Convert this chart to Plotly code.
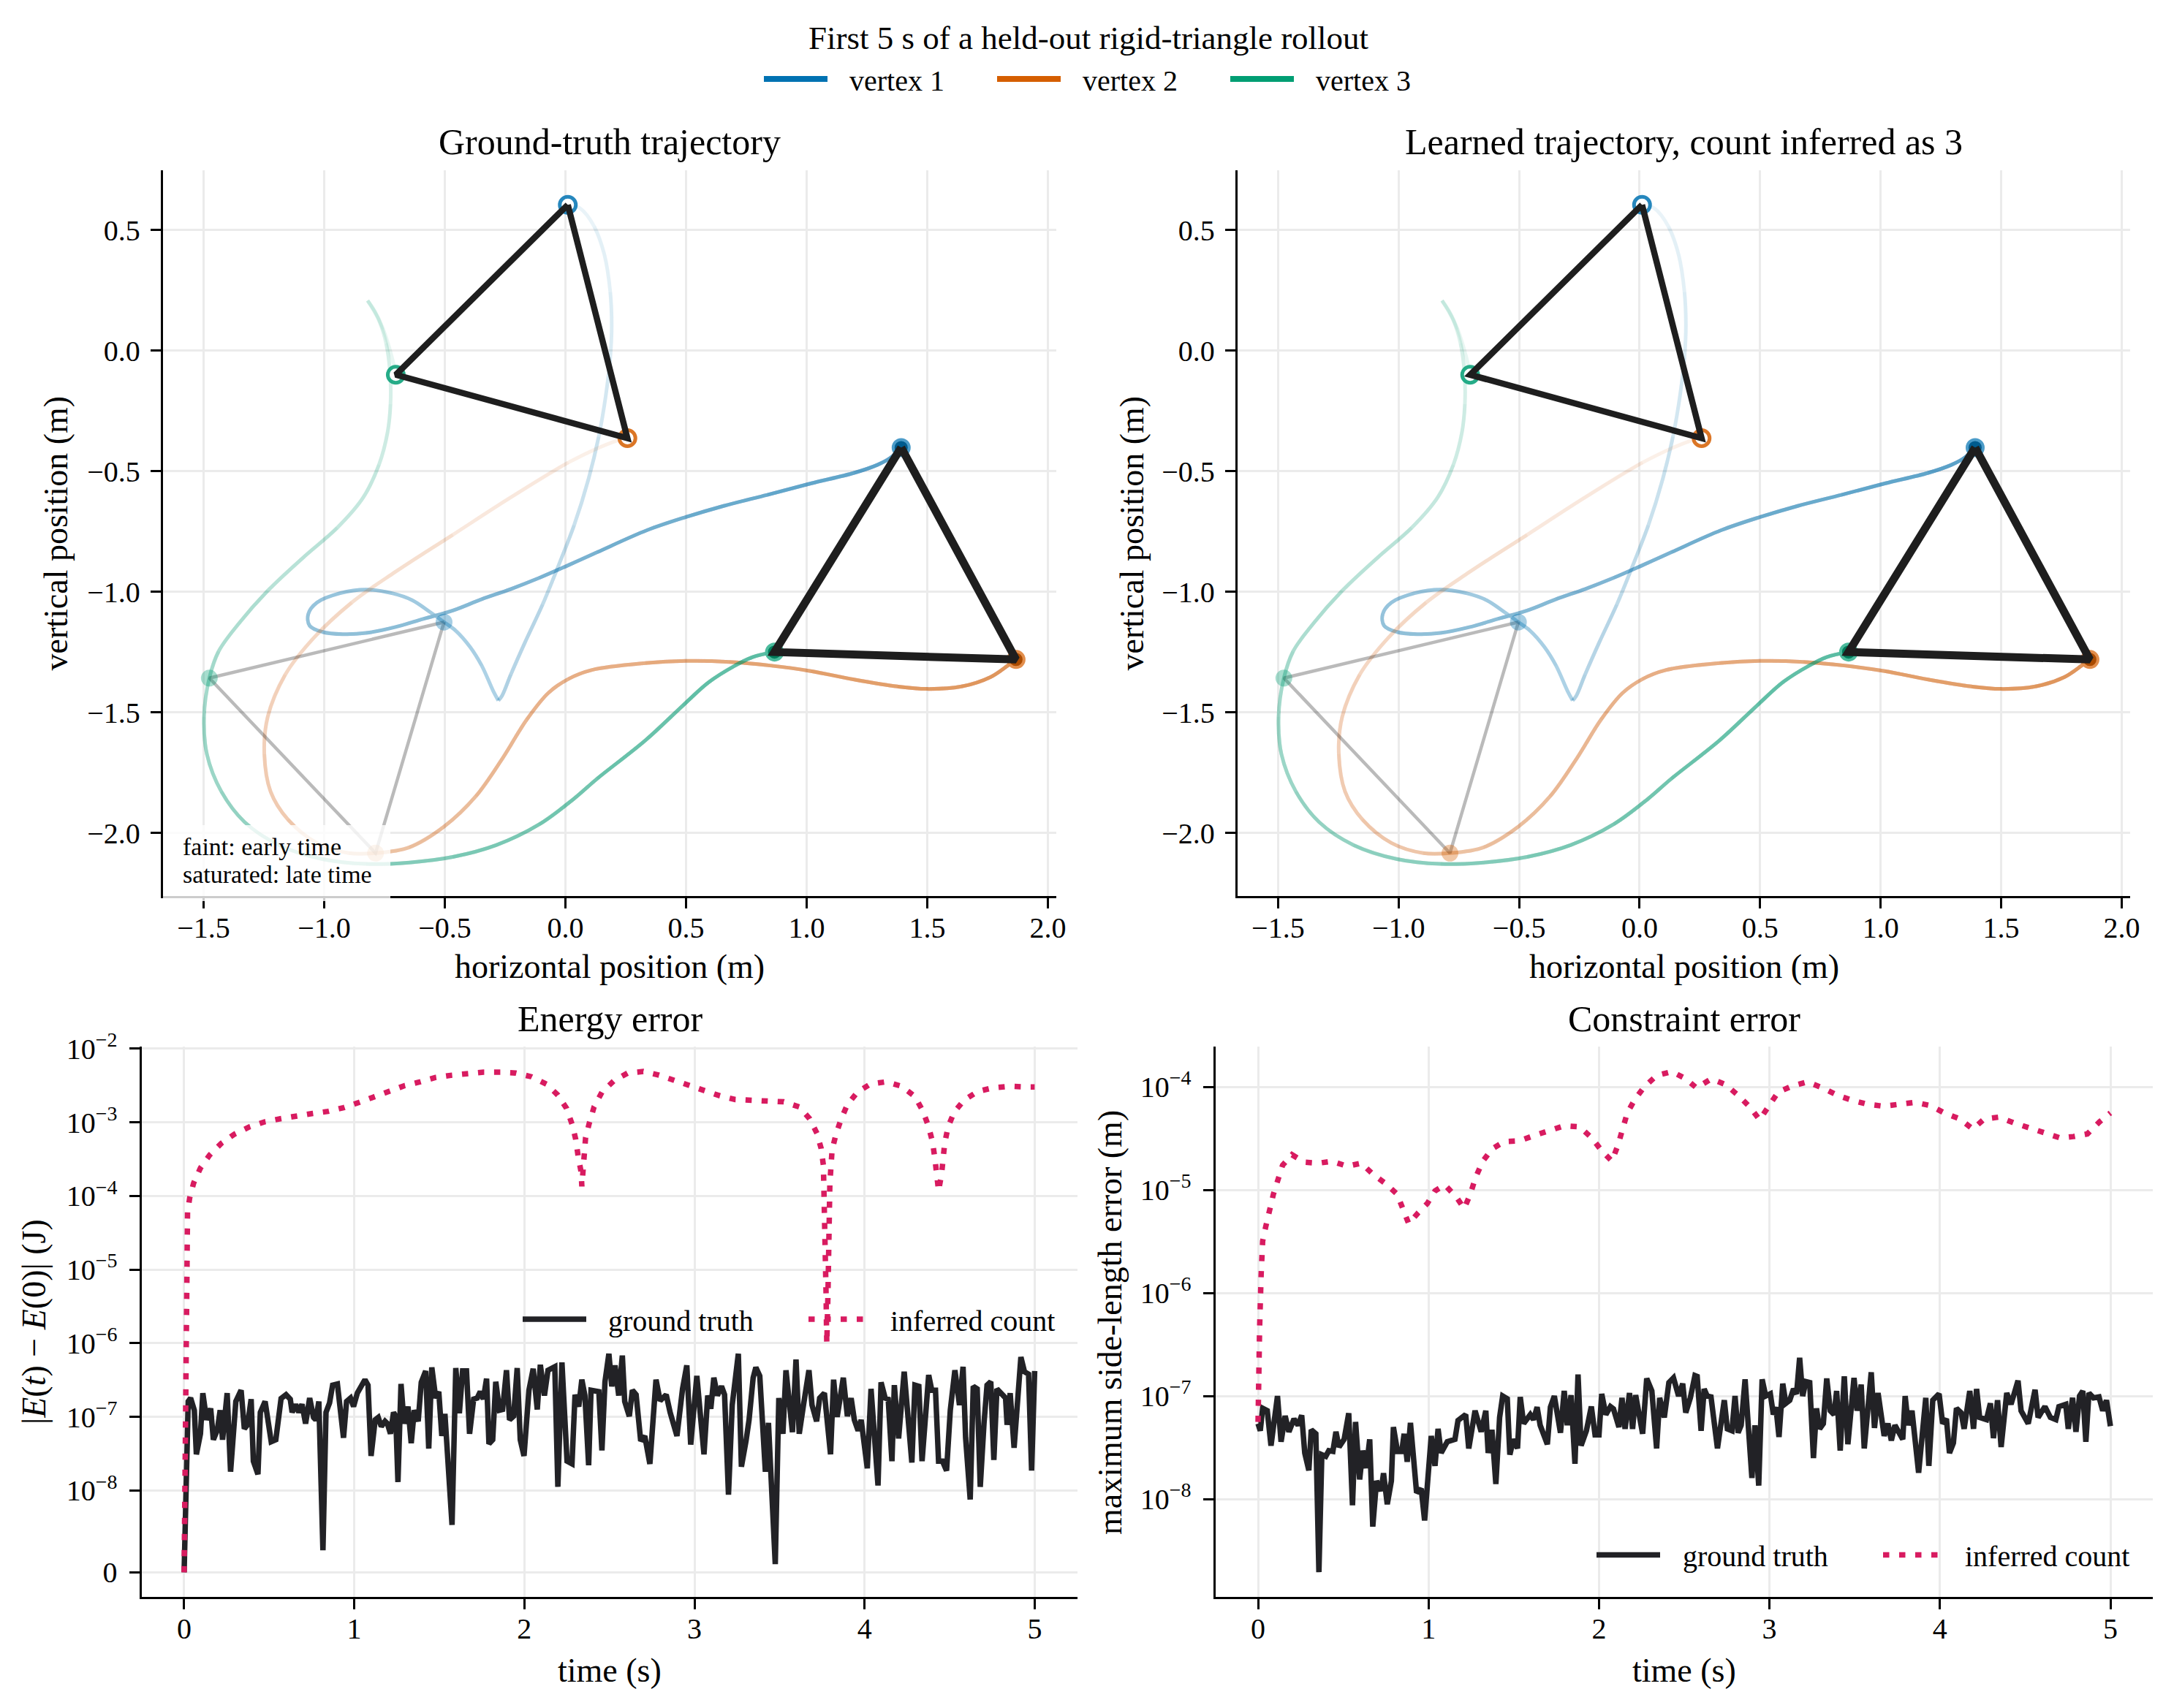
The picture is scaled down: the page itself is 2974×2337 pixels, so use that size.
import numpy as np
import plotly.graph_objects as go

W, H = 2974, 2337
FONT = "Liberation Serif"
TICK_FONT = "Liberation Serif, Times New Roman, serif"

# ---------------- data ----------------
T_SNAP, T_END = 2.5, 5.0   # grey snapshot time and rollout length (s)

vertex_names = ["vertex 1", "vertex 2", "vertex 3"]
vertex_colors = [(0, 114, 178), (213, 94, 0), (0, 158, 115)]

# vertex paths (x, y) in metres, from t = 0 to t = 5 s
gt_vertex1 = [(0.010, 0.605), (0.060, 0.591), (0.120, 0.514), (0.162, 0.397), (0.186, 0.243),
              (0.192, 0.107), (0.186, -0.028), (0.168, -0.183), (0.138, -0.358), (0.096, -0.532),
              (0.036, -0.725), (-0.024, -0.880), (-0.095, -1.054), (-0.167, -1.209), (-0.227, -1.345),
              (-0.263, -1.432), (-0.278, -1.451), (-0.299, -1.412), (-0.347, -1.306), (-0.395, -1.229),
              (-0.455, -1.161), (-0.503, -1.126), (-0.563, -1.083), (-0.635, -1.035), (-0.719, -1.006),
              (-0.826, -0.991), (-0.934, -1.006), (-1.030, -1.045), (-1.066, -1.093), (-1.060, -1.141),
              (-1.006, -1.167), (-0.922, -1.176), (-0.826, -1.171), (-0.707, -1.147), (-0.587, -1.112),
              (-0.467, -1.078), (-0.347, -1.031), (-0.227, -0.989), (-0.107, -0.942), (0.012, -0.890),
              (0.132, -0.836), (0.338, -0.745), (0.500, -0.690), (0.656, -0.644), (0.837, -0.598),
              (1.017, -0.551), (1.197, -0.507), (1.293, -0.474), (1.347, -0.445), (1.392, -0.402)]
gt_vertex2 = [(0.257, -0.363), (0.214, -0.373), (0.012, -0.464), (-0.227, -0.609), (-0.467, -0.764),
              (-0.707, -0.919), (-0.886, -1.045), (-1.042, -1.190), (-1.162, -1.345), (-1.234, -1.519),
              (-1.248, -1.674), (-1.222, -1.829), (-1.150, -1.945), (-1.030, -2.042), (-0.898, -2.084),
              (-0.787, -2.084), (-0.647, -2.060), (-0.503, -1.974), (-0.371, -1.848), (-0.260, -1.690),
              (-0.160, -1.530), (-0.071, -1.420), (0.012, -1.362), (0.108, -1.325), (0.332, -1.296),
              (0.500, -1.287), (0.680, -1.291), (0.849, -1.306), (1.017, -1.329), (1.197, -1.364),
              (1.377, -1.393), (1.498, -1.403), (1.642, -1.393), (1.762, -1.354), (1.834, -1.306),
              (1.868, -1.281)]
gt_vertex3 = [(-0.703, -0.100), (-0.719, -0.028), (-0.755, 0.088), (-0.791, 0.165), (-0.820, 0.208),
              (-0.773, 0.126), (-0.743, 0.030), (-0.727, -0.087), (-0.725, -0.222), (-0.737, -0.338),
              (-0.773, -0.474), (-0.838, -0.609), (-0.946, -0.735), (-1.090, -0.861), (-1.234, -0.996),
              (-1.354, -1.132), (-1.438, -1.248), (-1.476, -1.358), (-1.498, -1.519), (-1.486, -1.674),
              (-1.426, -1.829), (-1.330, -1.955), (-1.186, -2.051), (-1.006, -2.109), (-0.826, -2.129),
              (-0.647, -2.123), (-0.467, -2.100), (-0.287, -2.051), (-0.107, -1.964), (0.036, -1.858),
              (0.132, -1.775), (0.332, -1.616), (0.488, -1.471), (0.596, -1.374), (0.704, -1.306),
              (0.776, -1.271), (0.867, -1.250)]
# index of the t = 2.5 s snapshot in each path, and sharp turning points
gt_snapshot_index = [21, 15, 17]
gt_sharp_index = [[16], [], [4]]

# learned rollout: indistinguishable from the ground truth at this resolution
learned_vertex1 = list(gt_vertex1)
learned_vertex2 = list(gt_vertex2)
learned_vertex3 = list(gt_vertex3)
learned_snapshot_index = [21, 15, 17]
learned_sharp_index = [[16], [], [4]]

# |E(t) - E(0)| (J)
energy_ground_truth = [
    (0.000, 0.0), (0.024, 1.62e-7), (0.038, 1.8e-7), (0.060, 1.23e-7), (0.072, 3.1e-8), (0.096, 5.9e-8),
    (0.110, 2.1e-7), (0.132, 9.1e-8), (0.156, 1.3e-7), (0.172, 4.9e-8), (0.195, 6.6e-8), (0.212, 1.23e-7),
    (0.226, 4.9e-8), (0.253, 2.1e-7), (0.273, 1.8e-8), (0.304, 1.62e-7), (0.335, 2.3e-7), (0.354, 6.9e-8),
    (0.373, 7.8e-8), (0.394, 1.74e-7), (0.407, 2.5e-8), (0.434, 1.66e-8), (0.448, 1.15e-7), (0.476, 1.62e-7),
    (0.512, 4.6e-8), (0.539, 4.9e-8), (0.570, 1.78e-7), (0.599, 2.0e-7), (0.624, 1.74e-7), (0.635, 1.15e-7),
    (0.656, 1.48e-7), (0.674, 1.15e-7), (0.693, 1.48e-7), (0.714, 8.1e-8), (0.738, 1.8e-7), (0.761, 9.8e-8),
    (0.774, 9.1e-8), (0.792, 1.62e-7), (0.816, 2.7e-9), (0.834, 1.15e-7), (0.855, 1.55e-7), (0.873, 2.7e-7),
    (0.901, 2.8e-7), (0.937, 5.2e-8), (0.955, 1.62e-7), (0.978, 1.8e-7), (0.996, 1.38e-7), (1.018, 2.1e-7),
    (1.063, 3.2e-7), (1.081, 2.7e-7), (1.099, 2.95e-8), (1.123, 9.1e-8), (1.141, 9.8e-8), (1.159, 7.4e-8),
    (1.181, 8.7e-8), (1.195, 8.1e-8), (1.213, 5.9e-8), (1.231, 1.15e-7), (1.244, 1.02e-7), (1.257, 1.3e-8),
    (1.275, 2.8e-7), (1.293, 8.1e-8), (1.316, 1.38e-7), (1.335, 4.4e-8), (1.353, 1.23e-7), (1.376, 8.7e-8),
    (1.394, 2.95e-7), (1.420, 4.2e-7), (1.438, 3.7e-8), (1.456, 4.7e-7), (1.479, 1.8e-7), (1.497, 2.2e-7),
    (1.515, 5.5e-8), (1.533, 1.1e-7), (1.575, 5.8e-9), (1.597, 4.6e-7), (1.618, 1.12e-7), (1.637, 4.2e-7),
    (1.660, 4.2e-7), (1.678, 5.9e-8), (1.702, 1.74e-7), (1.723, 1.8e-7), (1.741, 2.2e-7), (1.759, 1.74e-7),
    (1.778, 3.3e-7), (1.792, 4.3e-8), (1.814, 4.9e-8), (1.832, 3.0e-7), (1.854, 1.23e-7), (1.872, 1.26e-7),
    (1.895, 4.3e-7), (1.913, 9.1e-8), (1.937, 1.02e-7), (1.958, 4.6e-7), (1.976, 4.9e-8), (1.998, 2.95e-8),
    (2.027, 2.3e-7), (2.052, 4.5e-7), (2.076, 1.26e-7), (2.094, 5.1e-7), (2.118, 1.95e-7), (2.139, 4.3e-7),
    (2.179, 4.8e-7), (2.197, 1.12e-8), (2.221, 5.5e-7), (2.251, 2.5e-8), (2.280, 2.3e-8), (2.298, 2.0e-7),
    (2.320, 1.38e-7), (2.338, 3.2e-7), (2.356, 1.95e-7), (2.378, 2.2e-8), (2.392, 2.3e-7), (2.438, 2.2e-7),
    (2.456, 3.5e-8), (2.474, 3.0e-7), (2.497, 7.2e-7), (2.514, 2.6e-7), (2.533, 5.0e-7), (2.555, 1.95e-7),
    (2.576, 6.8e-7), (2.590, 1.62e-7), (2.617, 1.02e-7), (2.635, 2.3e-7), (2.657, 2.0e-7), (2.684, 4.7e-8),
    (2.708, 5.5e-8), (2.738, 2.3e-8), (2.774, 3.2e-7), (2.798, 1.66e-7), (2.834, 2.0e-7), (2.857, 1.15e-7),
    (2.897, 5.5e-8), (2.930, 2.4e-7), (2.955, 5.0e-7), (2.978, 4.2e-8), (3.014, 3.6e-7), (3.056, 3.1e-8),
    (3.078, 1.95e-7), (3.096, 1.29e-7), (3.114, 3.4e-7), (3.135, 1.95e-7), (3.159, 2.6e-7), (3.177, 2.0e-7),
    (3.200, 9.5e-9), (3.222, 1.45e-7), (3.258, 7.2e-7), (3.276, 2.1e-8), (3.303, 4.7e-8), (3.321, 9.1e-8),
    (3.345, 3.4e-7), (3.361, 4.7e-7), (3.384, 3.6e-7), (3.417, 1.8e-8), (3.435, 8.3e-8), (3.475, 1.0e-9),
    (3.496, 1.8e-7), (3.520, 5.9e-8), (3.538, 4.3e-7), (3.565, 9.8e-8), (3.576, 6.2e-8), (3.597, 6.0e-7),
    (3.616, 5.9e-8), (3.641, 1.45e-7), (3.673, 4.3e-7), (3.691, 1.45e-7), (3.718, 8.7e-8), (3.736, 1.8e-7),
    (3.764, 2.1e-7), (3.800, 3.1e-8), (3.818, 3.2e-7), (3.839, 1.0e-7), (3.875, 3.4e-7), (3.899, 1.02e-7),
    (3.921, 1.8e-7), (3.940, 9.1e-8), (3.962, 6.5e-8), (3.980, 9.1e-8), (4.016, 2.0e-8), (4.038, 2.4e-7),
    (4.079, 1.17e-8), (4.097, 2.95e-7), (4.121, 1.8e-7), (4.139, 1.74e-7), (4.161, 2.5e-8), (4.175, 2.7e-7),
    (4.200, 5.1e-8), (4.233, 4.1e-7), (4.278, 2.4e-8), (4.296, 2.7e-7), (4.319, 2.6e-7), (4.338, 2.5e-8),
    (4.377, 3.7e-7), (4.395, 2.3e-7), (4.417, 2.3e-7), (4.435, 2.5e-8), (4.458, 2.5e-8), (4.482, 1.86e-8),
    (4.504, 1.23e-7), (4.531, 4.3e-7), (4.558, 1.45e-7), (4.579, 4.8e-7), (4.594, 5.2e-8), (4.621, 8.9e-9),
    (4.639, 2.6e-7), (4.662, 2.4e-7), (4.680, 1.12e-8), (4.702, 8.1e-8), (4.720, 2.7e-7), (4.742, 3.0e-7),
    (4.760, 2.6e-8), (4.778, 2.4e-7), (4.810, 2.0e-7), (4.829, 1.8e-7), (4.838, 7.8e-8), (4.856, 2.1e-7),
    (4.879, 3.8e-8), (4.901, 1.74e-7), (4.919, 6.5e-7), (4.940, 4.1e-7), (4.964, 3.8e-7), (4.982, 1.86e-8),
    (5.000, 4.2e-7)]
energy_inferred = [
    (0.000, 0.0), (0.020, 6.0e-5), (0.033, 9.5e-5), (0.056, 1.5e-4), (0.096, 2.4e-4), (0.150, 3.6e-4),
    (0.219, 5.2e-4), (0.295, 6.9e-4), (0.385, 8.7e-4), (0.476, 1.02e-3), (0.566, 1.12e-3), (0.656, 1.23e-3),
    (0.756, 1.32e-3), (0.846, 1.41e-3), (0.937, 1.58e-3), (1.027, 1.86e-3), (1.118, 2.24e-3), (1.208, 2.69e-3),
    (1.298, 3.16e-3), (1.389, 3.55e-3), (1.479, 4.07e-3), (1.575, 4.37e-3), (1.669, 4.68e-3), (1.759, 4.79e-3),
    (1.859, 4.79e-3), (1.949, 4.68e-3), (2.040, 4.17e-3), (2.130, 3.31e-3), (2.197, 2.34e-3), (2.248, 1.55e-3),
    (2.280, 9.5e-4), (2.302, 5.9e-4), (2.316, 3.5e-4), (2.334, 2.1e-4), (2.338, 1.35e-4), (2.351, 3.7e-4),
    (2.360, 6.2e-4), (2.383, 1.0e-3), (2.410, 1.62e-3), (2.456, 2.57e-3), (2.528, 3.7e-3), (2.608, 4.68e-3),
    (2.699, 4.9e-3), (2.792, 4.37e-3), (2.883, 3.72e-3), (2.969, 3.16e-3), (3.060, 2.63e-3), (3.150, 2.29e-3),
    (3.240, 2.04e-3), (3.339, 2.0e-3), (3.430, 2.0e-3), (3.525, 1.9e-3), (3.616, 1.62e-3), (3.677, 1.12e-3),
    (3.720, 7.1e-4), (3.745, 4.4e-4), (3.758, 2.6e-4), (3.764, 9.3e-5), (3.767, 3.4e-5), (3.771, 1.2e-5),
    (3.774, 4.4e-6), (3.776, 1.8e-6), (3.778, 9.8e-7), (3.785, 4.9e-6), (3.791, 3.4e-5), (3.796, 1.48e-4),
    (3.809, 4.2e-4), (3.832, 6.9e-4), (3.863, 1.12e-3), (3.899, 1.74e-3), (3.958, 2.57e-3), (4.034, 3.31e-3),
    (4.128, 3.55e-3), (4.218, 3.09e-3), (4.296, 2.24e-3), (4.341, 1.45e-3), (4.374, 9.1e-4), (4.399, 5.5e-4),
    (4.413, 3.3e-4), (4.422, 2.0e-4), (4.435, 1.17e-4), (4.453, 2.0e-4), (4.462, 3.2e-4), (4.471, 5.2e-4),
    (4.491, 8.7e-4), (4.527, 1.38e-3), (4.585, 2.0e-3), (4.666, 2.63e-3), (4.756, 2.95e-3), (4.852, 3.09e-3),
    (4.951, 3.02e-3), (5.000, 3.02e-3)]

# maximum side-length error (m)
constraint_ground_truth = [
    (0.000, 5.4e-8), (0.013, 4.6e-8), (0.027, 7.6e-8), (0.054, 7.2e-8), (0.076, 3.3e-8), (0.114, 1.0e-7),
    (0.135, 3.6e-8), (0.159, 6.4e-8), (0.181, 4.5e-8), (0.211, 6.0e-8), (0.235, 5.2e-8), (0.256, 6.5e-8),
    (0.274, 2.8e-8), (0.298, 1.9e-8), (0.312, 4.7e-8), (0.339, 4.3e-8), (0.357, 1.95e-9), (0.374, 2.7e-8),
    (0.397, 2.6e-8), (0.415, 2.95e-8), (0.439, 2.9e-8), (0.457, 4.5e-8), (0.475, 3.2e-8), (0.505, 3.8e-8),
    (0.532, 6.8e-8), (0.554, 8.7e-9), (0.572, 5.6e-8), (0.596, 1.55e-8), (0.614, 2.95e-8), (0.635, 2.0e-8),
    (0.655, 3.8e-8), (0.673, 5.4e-9), (0.695, 1.5e-8), (0.722, 1.2e-8), (0.736, 1.78e-8), (0.758, 8.9e-9),
    (0.782, 1.5e-8), (0.794, 5.0e-8), (0.818, 2.9e-8), (0.843, 2.9e-8), (0.857, 4.3e-8), (0.875, 2.3e-8),
    (0.894, 5.5e-8), (0.930, 1.15e-8), (0.957, 1.26e-8), (0.977, 6.2e-9), (1.016, 4.1e-8), (1.038, 2.1e-8),
    (1.056, 4.8e-8), (1.074, 2.8e-8), (1.110, 3.6e-8), (1.155, 3.8e-8), (1.173, 5.8e-8), (1.197, 6.2e-8),
    (1.218, 6.6e-8), (1.236, 3.1e-8), (1.273, 7.2e-8), (1.309, 4.5e-8), (1.336, 7.2e-8), (1.350, 2.8e-8),
    (1.372, 4.7e-8), (1.395, 1.4e-8), (1.417, 6.2e-8), (1.435, 1.0e-7), (1.462, 9.4e-8), (1.477, 2.7e-8),
    (1.498, 3.8e-8), (1.522, 3.1e-8), (1.538, 9.8e-8), (1.558, 5.4e-8), (1.597, 6.6e-8), (1.616, 5.9e-8),
    (1.637, 7.8e-8), (1.655, 5.2e-8), (1.697, 3.4e-8), (1.715, 7.8e-8), (1.738, 1.0e-7), (1.774, 4.4e-8),
    (1.796, 1.12e-7), (1.814, 5.2e-8), (1.836, 1.02e-7), (1.859, 2.2e-8), (1.877, 1.62e-7), (1.895, 3.3e-8),
    (1.926, 4.6e-8), (1.955, 7.9e-8), (1.977, 4.2e-8), (2.000, 4.2e-8), (2.016, 1.05e-7), (2.040, 6.6e-8),
    (2.067, 7.9e-8), (2.085, 7.5e-8), (2.117, 5.0e-8), (2.135, 9.6e-8), (2.153, 4.8e-8), (2.179, 1.07e-7),
    (2.197, 4.8e-8), (2.215, 1.02e-7), (2.256, 4.3e-8), (2.280, 1.48e-7), (2.310, 1.12e-7), (2.338, 3.1e-8),
    (2.356, 9.6e-8), (2.383, 6.2e-8), (2.410, 1.35e-7), (2.437, 1.5e-7), (2.467, 1.0e-7), (2.491, 1.32e-7),
    (2.509, 6.9e-8), (2.536, 9.6e-8), (2.563, 1.58e-7), (2.576, 1.55e-7), (2.599, 4.6e-8), (2.617, 1.17e-7),
    (2.635, 1.0e-7), (2.657, 9.8e-8), (2.695, 3.1e-8), (2.735, 9.1e-8), (2.753, 4.8e-8), (2.780, 4.6e-8),
    (2.798, 1.0e-7), (2.816, 4.4e-8), (2.834, 5.2e-8), (2.857, 1.45e-7), (2.897, 1.6e-8), (2.915, 5.2e-8),
    (2.937, 1.35e-8), (2.957, 1.45e-7), (2.978, 1.0e-7), (3.005, 1.05e-7), (3.023, 6.6e-8), (3.038, 7.8e-8),
    (3.056, 4.0e-8), (3.078, 1.32e-7), (3.096, 8.5e-8), (3.119, 9.1e-8), (3.141, 1.17e-7), (3.159, 1.05e-7),
    (3.177, 2.35e-7), (3.195, 1.0e-7), (3.213, 1.38e-7), (3.236, 1.35e-7), (3.258, 2.5e-8), (3.276, 7.6e-8),
    (3.294, 4.8e-8), (3.316, 5.4e-8), (3.336, 1.48e-7), (3.357, 7.2e-8), (3.379, 6.6e-8), (3.394, 1.12e-7),
    (3.415, 2.95e-8), (3.439, 1.55e-7), (3.460, 3.4e-8), (3.496, 1.5e-7), (3.514, 7.2e-8), (3.538, 1.29e-7),
    (3.556, 3.1e-8), (3.597, 1.7e-7), (3.616, 4.9e-8), (3.637, 1.07e-7), (3.673, 4.1e-8), (3.695, 5.4e-8),
    (3.715, 3.7e-8), (3.736, 5.2e-8), (3.782, 3.8e-8), (3.796, 1.0e-7), (3.814, 5.2e-8), (3.836, 7.2e-8),
    (3.875, 1.8e-8), (3.917, 9.6e-8), (3.935, 2.1e-8), (3.958, 9.1e-8), (3.995, 1.05e-7), (4.016, 5.4e-8),
    (4.038, 6.0e-8), (4.056, 2.8e-8), (4.079, 3.5e-8), (4.097, 7.6e-8), (4.124, 6.9e-8), (4.142, 4.8e-8),
    (4.175, 1.12e-7), (4.197, 4.8e-8), (4.215, 1.17e-7), (4.233, 6.2e-8), (4.273, 5.9e-8), (4.296, 8.5e-8),
    (4.314, 3.9e-8), (4.338, 9.1e-8), (4.359, 3.2e-8), (4.392, 1.07e-7), (4.417, 8.3e-8), (4.458, 1.41e-7),
    (4.476, 7.2e-8), (4.518, 5.4e-8), (4.558, 1.15e-7), (4.576, 6.2e-8), (4.616, 7.9e-8), (4.648, 6.2e-8),
    (4.680, 5.9e-8), (4.698, 7.9e-8), (4.738, 8.3e-8), (4.753, 4.8e-8), (4.778, 9.6e-8), (4.798, 4.5e-8),
    (4.819, 1.0e-7), (4.838, 1.12e-7), (4.856, 3.6e-8), (4.874, 1.07e-7), (4.901, 9.6e-8), (4.933, 9.8e-8),
    (4.955, 7.2e-8), (4.977, 9.1e-8), (5.000, 5.1e-8)]
constraint_inferred = [
    (0.000, 5.6e-8), (0.005, 1.05e-7), (0.009, 4.5e-7), (0.018, 1.5e-6), (0.027, 3.2e-6), (0.045, 4.4e-6),
    (0.063, 6.0e-6), (0.090, 9.1e-6), (0.117, 1.26e-5), (0.144, 1.74e-5), (0.199, 2.2e-5), (0.271, 1.86e-5),
    (0.352, 1.82e-5), (0.433, 1.9e-5), (0.523, 1.7e-5), (0.605, 1.82e-5), (0.677, 1.41e-5), (0.749, 1.15e-5),
    (0.816, 9.1e-6), (0.848, 6.6e-6), (0.884, 4.7e-6), (0.939, 6.0e-6), (0.993, 7.4e-6), (1.038, 9.8e-6),
    (1.096, 1.12e-5), (1.164, 8.5e-6), (1.209, 6.6e-6), (1.245, 9.1e-6), (1.276, 1.32e-5), (1.318, 1.9e-5),
    (1.372, 2.5e-5), (1.444, 2.95e-5), (1.534, 3.0e-5), (1.625, 3.4e-5), (1.706, 3.8e-5), (1.796, 4.2e-5),
    (1.886, 4.1e-5), (1.958, 3.2e-5), (2.016, 2.4e-5), (2.076, 1.9e-5), (2.112, 2.75e-5), (2.139, 4.1e-5),
    (2.166, 5.6e-5), (2.211, 7.6e-5), (2.265, 1.0e-4), (2.338, 1.29e-4), (2.428, 1.41e-4), (2.509, 1.2e-4),
    (2.572, 9.8e-5), (2.659, 1.2e-4), (2.744, 1.05e-4), (2.816, 8.3e-5), (2.888, 6.3e-5), (2.942, 4.8e-5),
    (2.996, 6.5e-5), (3.051, 8.9e-5), (3.132, 1.02e-4), (3.222, 1.12e-4), (3.312, 9.8e-5), (3.399, 8.3e-5),
    (3.487, 7.4e-5), (3.574, 6.8e-5), (3.668, 6.5e-5), (3.760, 6.8e-5), (3.854, 7.1e-5), (3.944, 6.6e-5),
    (4.025, 5.6e-5), (4.116, 4.9e-5), (4.193, 3.9e-5), (4.260, 4.9e-5), (4.347, 5.1e-5), (4.431, 4.5e-5),
    (4.522, 4.0e-5), (4.612, 3.6e-5), (4.706, 3.2e-5), (4.783, 3.3e-5), (4.865, 3.5e-5), (4.937, 4.6e-5),
    (5.000, 5.6e-5)]

pos_ticks = [-2.0, -1.5, -1.0, -0.5, 0.0, 0.5]
hpos_ticks = [-1.5, -1.0, -0.5, 0.0, 0.5, 1.0, 1.5, 2.0]
time_ticks = [0, 1, 2, 3, 4, 5]
energy_ticks = [0.0, 1e-8, 1e-7, 1e-6, 1e-5, 1e-4, 1e-3, 1e-2]
constraint_ticks = [1e-8, 1e-7, 1e-6, 1e-5, 1e-4]

# ---------------- helpers ----------------
GT_BLACK = "#222226"
RED = "#D81B60"
TRI_BLACK = "#1e1e1e"


def px(x):
    return x / W


def py(y):
    return 1 - y / H


def rgba(rgb, a):
    return "rgba(%d,%d,%d,%.4f)" % (rgb[0], rgb[1], rgb[2], a)


def mix(rgb, other, f):
    return tuple(int(round(c * (1 - f) + o * f)) for c, o in zip(rgb, other))


def minus(v, fmt="%.1f"):
    return (fmt % v).replace("-", "\u2212")


LINTHRESH = 1e-8
LINSCALE_ADJ = 1.0 / (1.0 - 1.0 / 10.0)


def symlog(v):
    v = float(v)
    if v <= LINTHRESH:
        return v / LINTHRESH * LINSCALE_ADJ
    return LINSCALE_ADJ + np.log10(v / LINTHRESH)


def sup(e):
    return "10<sup>\u2212%d</sup>" % e


def alpha_at(t):
    return 0.08 + 0.55 * t / T_END


fig = go.Figure()


def add_trajectory(pts, mid, sharp, rgb, xa, ya, step=2):
    """Time-faded path: stacked spline layers starting further along the path."""
    xs = np.array([p[0] for p in pts])
    ys = np.array([p[1] for p in pts])
    seg = np.hypot(np.diff(xs), np.diff(ys))
    cum = np.concatenate([[0.0], np.cumsum(seg)])
    t = np.empty(len(xs))
    t[:mid + 1] = T_SNAP * cum[:mid + 1] / cum[mid]
    t[mid:] = T_SNAP + (T_END - T_SNAP) * (cum[mid:] - cum[mid]) / (cum[-1] - cum[mid])
    cuts = [0] + sorted(sharp) + [len(xs) - 1]
    for a, b in zip(cuts[:-1], cuts[1:]):
        prev = 0.0
        for s in range(a, b, step):
            target = alpha_at(t[s:min(s + step, b) + 1].mean())
            layer = 1.0 - (1.0 - target) / (1.0 - prev)
            prev = target
            fig.add_trace(go.Scatter(
                x=xs[s:b + 1], y=ys[s:b + 1], mode="lines",
                line=dict(color=rgba(rgb, layer), width=5, shape="spline", smoothing=1.0),
                xaxis=xa, yaxis=ya, hoverinfo="skip", showlegend=False))


def add_panel(paths, mids, sharps, xa, ya):
    for pts, mid, sh, rgb in zip(paths, mids, sharps, vertex_colors):
        add_trajectory(pts, mid, sh, rgb, xa, ya)
    # grey snapshot at t = 2.5 s
    sx = [p[m][0] for p, m in zip(paths, mids)]
    sy = [p[m][1] for p, m in zip(paths, mids)]
    fig.add_trace(go.Scatter(x=sx + [sx[0]], y=sy + [sy[0]], mode="lines",
                             line=dict(color="rgba(0,0,0,0.27)", width=4.5),
                             xaxis=xa, yaxis=ya, hoverinfo="skip", showlegend=False))
    fig.add_trace(go.Scatter(x=sx, y=sy, mode="markers",
                             marker=dict(size=23, color=[rgba(c, 0.35) for c in vertex_colors],
                                         line=dict(width=0)),
                             xaxis=xa, yaxis=ya, hoverinfo="skip", showlegend=False))
    # initial configuration
    ix = [p[0][0] for p in paths]
    iy = [p[0][1] for p in paths]
    fig.add_trace(go.Scatter(x=ix, y=iy, mode="markers",
                             marker=dict(size=22, color="white",
                                         line=dict(width=5, color=[rgba(c, 0.85) for c in vertex_colors])),
                             xaxis=xa, yaxis=ya, hoverinfo="skip", showlegend=False))
    fig.add_trace(go.Scatter(x=ix + [ix[0]], y=iy + [iy[0]], mode="lines",
                             line=dict(color=TRI_BLACK, width=8.5),
                             xaxis=xa, yaxis=ya, hoverinfo="skip", showlegend=False))
    # final configuration
    fx = [p[-1][0] for p in paths]
    fy = [p[-1][1] for p in paths]
    fig.add_trace(go.Scatter(x=fx, y=fy, mode="markers",
                             marker=dict(size=22, color=[rgba(mix(c, (0, 0, 0), 0.2), 1) for c in vertex_colors],
                                         line=dict(width=4, color=[rgba(mix(c, (255, 255, 255), 0.3), 1) for c in vertex_colors])),
                             xaxis=xa, yaxis=ya, hoverinfo="skip", showlegend=False))
    fig.add_trace(go.Scatter(x=fx + [fx[0]], y=fy + [fy[0]], mode="lines",
                             line=dict(color=TRI_BLACK, width=11),
                             xaxis=xa, yaxis=ya, hoverinfo="skip", showlegend=False))


add_panel([gt_vertex1, gt_vertex2, gt_vertex3], gt_snapshot_index, gt_sharp_index, "x", "y")
add_panel([learned_vertex1, learned_vertex2, learned_vertex3], learned_snapshot_index,
          learned_sharp_index, "x2", "y2")

DOT = "8.5px,13.5px"
GT_W, INF_W = 7.5, 7.5

# energy error (symmetric log axis, linear below 1e-8)
tg, vg = zip(*energy_ground_truth)
ti, vi = zip(*energy_inferred)
fig.add_trace(go.Scatter(x=tg, y=[symlog(v) for v in vg], mode="lines",
                         line=dict(color=GT_BLACK, width=GT_W), xaxis="x3", yaxis="y3",
                         hoverinfo="skip", showlegend=False))
fig.add_trace(go.Scatter(x=ti, y=[symlog(v) for v in vi], mode="lines",
                         line=dict(color=RED, width=INF_W, dash=DOT), xaxis="x3", yaxis="y3",
                         hoverinfo="skip", showlegend=False))

# constraint error (log axis)
tg, vg = zip(*constraint_ground_truth)
ti, vi = zip(*constraint_inferred)
fig.add_trace(go.Scatter(x=tg, y=vg, mode="lines", line=dict(color=GT_BLACK, width=GT_W),
                         xaxis="x4", yaxis="y4", hoverinfo="skip", showlegend=False))
fig.add_trace(go.Scatter(x=ti, y=vi, mode="lines", line=dict(color=RED, width=INF_W, dash=DOT),
                         xaxis="x4", yaxis="y4", hoverinfo="skip", showlegend=False))

# ---------------- layout ----------------
axis_common = dict(showline=True, linecolor="black", linewidth=3.3, mirror=False,
                   ticks="outside", ticklen=14, tickwidth=3.3, tickcolor="black",
                   showgrid=True, gridcolor="#ebebeb", gridwidth=2.5, zeroline=False,
                   fixedrange=True)


def ax(**kw):
    d = dict(axis_common)
    d["tickfont"] = dict(family=TICK_FONT, size=40, color="black")
    d.update(kw)
    return d


top_y = [py(1226), py(233)]
bot_y = [py(2185), py(1432)]
XSTAND, YSTAND = -8, 6

fig.update_layout(
    width=W, height=H, margin=dict(l=0, r=0, t=0, b=0, pad=0, autoexpand=False),
    paper_bgcolor="white", plot_bgcolor="white", showlegend=False, hovermode=False,
    font=dict(family=FONT, color="black", size=40),
    xaxis=ax(domain=[px(223), px(1445)], range=[-1.668, 2.035], anchor="y", ticklabelstandoff=XSTAND,
             tickvals=hpos_ticks, ticktext=[minus(v) for v in hpos_ticks]),
    yaxis=ax(domain=top_y, range=[-2.262, 0.748], anchor="x", ticklabelstandoff=YSTAND,
             tickvals=pos_ticks, ticktext=[minus(v) for v in pos_ticks]),
    xaxis2=ax(domain=[px(1693), px(2914)], range=[-1.668, 2.035], anchor="y2", ticklabelstandoff=XSTAND,
              tickvals=hpos_ticks, ticktext=[minus(v) for v in hpos_ticks]),
    yaxis2=ax(domain=top_y, range=[-2.262, 0.748], anchor="x2", ticklabelstandoff=YSTAND,
              tickvals=pos_ticks, ticktext=[minus(v) for v in pos_ticks]),
    xaxis3=ax(domain=[px(193.7), px(1473.6)], range=[-0.25, 5.25], anchor="y3", ticklabelstandoff=XSTAND,
              tickvals=time_ticks, ticktext=[str(v) for v in time_ticks]),
    yaxis3=ax(domain=bot_y, range=[-0.334, 7.14], anchor="x3", ticklabelstandoff=8,
              tickvals=[symlog(v) for v in energy_ticks],
              ticktext=["0"] + [sup(e) for e in [8, 7, 6, 5, 4, 3, 2]]),
    xaxis4=ax(domain=[px(1662.7), px(2945.3)], range=[-0.25, 5.25], anchor="y4", ticklabelstandoff=XSTAND,
              tickvals=time_ticks, ticktext=[str(v) for v in time_ticks]),
    yaxis4=ax(domain=bot_y, type="log", range=[-8.95, -3.608], anchor="x4", ticklabelstandoff=8,
              tickvals=constraint_ticks, ticktext=[sup(e) for e in [8, 7, 6, 5, 4]]),
)

annotations = []
shapes = []


def text(x, y, s, size, xanchor="center", angle=0):
    annotations.append(dict(x=px(x), y=py(y), xref="paper", yref="paper", text=s, showarrow=False,
                            xanchor=xanchor, yanchor="middle", textangle=angle,
                            font=dict(family=FONT, size=size, color="black")))


# titles
text(1489, 52, "First 5 s of a held-out rigid-triangle rollout", 45)
text(834, 194, "Ground-truth trajectory", 50)
text(2303.5, 194, "Learned trajectory, count inferred as 3", 50)
text(834, 1394, "Energy error", 50)
text(2304, 1394, "Constraint error", 50)
# axis titles
text(834, 1322, "horizontal position (m)", 46)
text(2303.5, 1322, "horizontal position (m)", 46)
text(76, 729.5, "vertical position (m)", 46, angle=-90)
text(1548, 729.5, "vertical position (m)", 46, angle=-90)
text(834, 2285, "time (s)", 46)
text(2304, 2285, "time (s)", 46)
text(46, 1809, "|<i>E</i>(<i>t</i>) \u2212 <i>E</i>(0)| (J)", 46, angle=-90)
text(1518, 1809, "maximum side-length error (m)", 46, angle=-90)

# figure legend (vertex colours)
for (x0, x1, tx), name, rgb in zip([(1045, 1132, 1160), (1364, 1451, 1479), (1683, 1770, 1798)],
                                   vertex_names, vertex_colors):
    shapes.append(dict(type="line", xref="paper", yref="paper", x0=px(x0), x1=px(x1),
                       y0=py(108), y1=py(108), line=dict(color=rgba(rgb, 1), width=8)))
    text(tx, 110, name, 40, xanchor="left")

# in-axes legends of the error panels
for (gx0, gx1, gtx, dx0, dtx, ly) in [(715, 802, 830, 1106, 1216, 1805),
                                      (2184, 2271, 2300, 2576, 2686, 2127.5)]:
    shapes.append(dict(type="line", xref="paper", yref="paper", x0=px(gx0), x1=px(gx1),
                       y0=py(ly), y1=py(ly), line=dict(color=GT_BLACK, width=GT_W)))
    text(gtx, ly + 2, "ground truth", 40, xanchor="left")
    shapes.append(dict(type="line", xref="paper", yref="paper", x0=px(dx0), x1=px(dx0 + 87),
                       y0=py(ly), y1=py(ly), line=dict(color=RED, width=INF_W, dash=DOT)))
    text(dtx, ly + 2, "inferred count", 40, xanchor="left")

# time-shading note in the first panel
shapes.append(dict(type="rect", xref="paper", yref="paper", x0=px(223), x1=px(534),
                   y0=py(1233), y1=py(1129), fillcolor="rgba(255,255,255,0.8)",
                   line=dict(width=0), layer="above"))
text(248, 1159, "faint: early time", 34, xanchor="left")
text(248, 1196, "saturated: late time", 34, xanchor="left")

fig.update_layout(annotations=annotations, shapes=shapes)

PIN = ("document.documentElement.style.margin='0';document.documentElement.style.padding='0';"
       "document.body.style.margin='0';document.body.style.padding='0';"
       "document.body.style.overflow='hidden';"
       "var g=document.getElementsByClassName('plotly-graph-div')[0];"
       "g.style.position='fixed';g.style.left='0px';g.style.top='0px';")

fig.write_html("out.html", post_script=PIN, config={"displayModeBar": False})
